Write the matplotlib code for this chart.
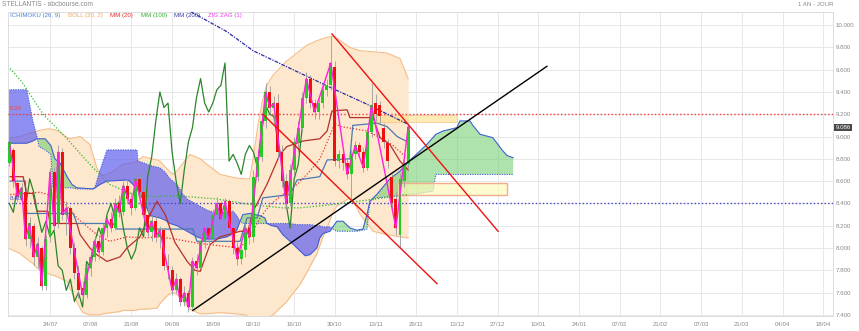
import matplotlib
matplotlib.use('Agg')
import matplotlib.pyplot as plt
import numpy as np
from matplotlib.patches import Rectangle

plt.rcParams['font.family'] = ['Liberation Sans', 'DejaVu Sans']

# ---------------- data ----------------
bars = np.arange(-10, 89)
opens = [8.76, 8.88, 8.58, 8.46, 8.50, 8.08, 8.20, 7.92, 8.00, 7.66,
         8.10, 8.68, 8.22, 8.86, 8.30, 8.36, 8.00, 7.78, 7.64, 7.58,
         7.82, 7.92, 8.06, 7.96, 8.18, 8.26, 8.18, 8.40, 8.32, 8.56,
         8.44, 8.36, 8.62, 8.50, 8.30, 8.14, 8.24, 8.10, 8.16, 7.84,
         7.80, 7.62, 7.72, 7.52, 7.60, 7.47, 7.88, 7.82, 8.06, 8.18,
         8.08, 8.30, 8.40, 8.26, 8.42, 8.18, 8.00, 7.90, 7.98, 8.18,
         8.10, 8.64, 8.82, 9.14, 9.40, 9.26, 9.30, 8.86, 8.60, 8.40,
         8.70, 8.95, 9.08, 9.35, 9.52, 9.30, 9.22, 9.30, 9.42, 9.46,
         9.62, 8.78, 8.84, 8.76, 8.66, 8.84, 8.92, 8.86, 8.72, 9.04,
         9.30, 9.28, 9.08, 8.94, 8.64, 8.44, 8.12, 8.60, 8.75]
highs = [8.98, 8.90, 8.62, 8.58, 8.52, 8.28, 8.22, 8.10, 8.02, 8.12,
         8.72, 8.72, 8.92, 8.90, 8.42, 8.38, 8.05, 7.85, 7.70, 7.86,
         7.98, 8.10, 8.12, 8.22, 8.30, 8.32, 8.45, 8.48, 8.60, 8.62,
         8.50, 8.66, 8.66, 8.54, 8.36, 8.30, 8.30, 8.20, 8.18, 7.95,
         7.84, 7.78, 7.74, 7.66, 7.62, 7.92, 7.95, 8.12, 8.22, 8.22,
         8.35, 8.46, 8.42, 8.45, 8.44, 8.22, 8.05, 8.04, 8.22, 8.25,
         8.70, 8.88, 9.20, 9.48, 9.45, 9.36, 9.38, 8.92, 8.66, 8.75,
         9.00, 9.14, 9.40, 9.58, 9.55, 9.34, 9.36, 9.48, 9.52, 9.90,
         9.68, 8.88, 8.86, 8.80, 8.88, 8.96, 8.95, 8.90, 9.08, 9.48,
         9.38, 9.32, 9.12, 8.98, 8.66, 8.50, 8.66, 8.80, 9.12]
lows = [8.74, 8.55, 8.42, 8.40, 8.02, 8.00, 7.85, 7.82, 7.62, 7.62,
        8.05, 8.15, 8.18, 8.25, 8.12, 7.95, 7.72, 7.55, 7.52, 7.55,
        7.75, 7.88, 7.90, 7.94, 8.10, 8.14, 8.16, 8.28, 8.30, 8.40,
        8.30, 8.34, 8.46, 8.26, 8.10, 8.06, 8.05, 8.00, 7.80, 7.72,
        7.58, 7.60, 7.48, 7.48, 7.43, 7.45, 7.76, 7.80, 8.00, 8.02,
        8.06, 8.26, 8.20, 8.22, 8.14, 7.95, 7.85, 7.86, 7.92, 8.04,
        8.05, 8.60, 8.78, 9.08, 9.20, 9.12, 8.80, 8.55, 8.34, 8.38,
        8.65, 8.86, 9.04, 9.30, 9.26, 9.16, 9.16, 9.26, 9.36, 9.42,
        8.74, 8.72, 8.70, 8.62, 8.42, 8.80, 8.82, 8.68, 8.70, 9.00,
        9.14, 9.12, 8.90, 8.72, 8.34, 8.12, 8.00, 8.55, 8.72]
closes = [8.95, 8.60, 8.46, 8.54, 8.08, 8.22, 7.92, 8.04, 7.66, 8.08,
          8.68, 8.20, 8.86, 8.30, 8.36, 8.00, 7.78, 7.62, 7.58, 7.82,
          7.92, 8.06, 7.96, 8.18, 8.26, 8.18, 8.40, 8.32, 8.56, 8.44,
          8.36, 8.62, 8.50, 8.30, 8.14, 8.24, 8.10, 8.16, 7.84, 7.80,
          7.62, 7.72, 7.52, 7.60, 7.47, 7.88, 7.82, 8.06, 8.18, 8.08,
          8.30, 8.40, 8.26, 8.42, 8.18, 8.00, 7.90, 7.98, 8.18, 8.10,
          8.64, 8.82, 9.14, 9.40, 9.26, 9.30, 8.86, 8.60, 8.40, 8.70,
          8.95, 9.08, 9.35, 9.52, 9.30, 9.22, 9.30, 9.42, 9.46, 9.66,
          8.78, 8.84, 8.76, 8.66, 8.84, 8.92, 8.86, 8.72, 9.04, 9.28,
          9.20, 9.18, 8.95, 8.78, 8.40, 8.18, 8.62, 8.75, 9.086]
last_price = 9.086

# Bollinger (20, 2)
boll_t = [-10.3, -7.4, -4.2, -3.2, -0.5, 1.2, 2.5, 4.2, 4.9, 6.1, 7.4, 8.1, 9.8,
          11.5, 12.3, 13.0, 15.2, 17.2, 17.9, 20.9, 22.1, 22.9, 26.3, 27.0, 29.0,
          30.2, 31.4, 33.9, 34.4, 36.9, 38.6, 41.8, 45.5, 47.9, 49.1, 50.1, 51.1,
          52.1, 53.1, 54.8, 58.2, 59.0, 61.4, 63.1, 65.6, 67.1, 68.1, 69.5, 70.5,
          73.7, 75.4, 76.2, 79.4, 82.8, 86.0, 88.0]
boll_up = [8.98, 9.00, 9.04, 9.05, 9.07, 9.06, 9.04, 8.99, 8.98, 8.99, 9.00, 8.98, 8.93,
           8.72, 8.67, 8.65, 8.68, 8.73, 8.75, 8.77, 8.80, 8.82, 8.79, 8.78, 8.70,
           8.66, 8.70, 8.82, 8.84, 8.80, 8.75, 8.66, 8.63, 8.62, 8.62, 8.85, 9.10,
           9.30, 9.45, 9.55, 9.68, 9.70, 9.77, 9.82, 9.86, 9.88, 9.89, 9.90, 9.88,
           9.80, 9.78, 9.77, 9.76, 9.75, 9.70, 9.52]
boll_lo = [8.00, 7.95, 7.86, 7.82, 7.77, 7.75, 7.73, 7.70, 7.64, 7.55, 7.46, 7.42, 7.40,
           7.40, 7.40, 7.41, 7.42, 7.43, 7.44, 7.44, 7.45, 7.45, 7.46, 7.50, 7.58,
           7.60, 7.58, 7.47, 7.45, 7.41, 7.41, 7.42, 7.41, 7.40, 7.38, 7.37, 7.37,
           7.37, 7.37, 7.40, 7.52, 7.56, 7.67, 7.78, 7.95, 8.10, 8.18, 8.32, 8.38,
           8.45, 8.36, 8.30, 8.15, 8.12, 8.10, 8.09]

# Ichimoku (26, 9)
tenkan_t = [-9.8, -6.6, -5.7, -4.2, -3.2, -0.5, 0.0, 6.6, 7.4, 9.8, 11.5, 14.0, 17.2,
            18.9, 22.1, 24.6, 26.3, 28.3, 30.7, 33.7, 35.6, 36.9, 39.3, 41.8, 46.7,
            48.6, 49.9, 53.3, 56.5, 58.2, 62.2, 66.3, 68.1, 69.3, 73.0, 73.7, 79.4,
            81.1, 83.5, 86.0, 88.0]
tenkan = [8.64, 8.64, 8.49, 8.49, 8.33, 8.33, 8.22, 8.22, 8.12, 8.00, 7.94, 7.88, 7.92,
          8.00, 8.10, 8.30, 8.42, 8.30, 8.05, 7.88, 7.80, 7.79, 8.03, 8.10, 8.15,
          8.15, 8.33, 8.57, 8.84, 8.91, 8.96, 8.98, 9.05, 9.23, 9.24, 9.17, 9.17,
          8.99, 8.93, 8.78, 8.70]
kijun_t = [-9.8, -6.1, -5.7, 5.7, 6.6, 15.5, 16.5, 35.1, 36.1, 46.7, 48.4, 50.9, 52.3,
           59.0, 60.7, 66.3, 68.1, 73.7, 74.4, 80.3, 82.8, 85.3, 88.0]
kijun = [8.60, 8.60, 8.31, 8.31, 8.22, 8.22, 8.17, 8.17, 8.06, 8.06, 8.27, 8.27, 8.45,
         8.48, 8.61, 8.64, 8.79, 8.80, 9.10, 9.12, 9.09, 9.00, 8.95]
cloud_t = [-10.3, -5.7, -4.2, -3.2, -2.7, -1.2, 0.2, 0.7, 1.2, 2.5, 4.2, 5.4, 6.6,
           10.6, 11.1, 12.3, 14.0, 19.2, 20.4, 21.4, 21.6, 23.3, 24.6, 27.0, 28.3,
           29.5, 31.2, 32.7, 33.7, 36.1, 37.6, 38.6, 41.0, 43.5, 45.0, 45.9, 46.7,
           47.4, 49.1, 51.6, 52.8, 53.3, 54.5, 55.8, 57.2, 59.0, 60.7, 62.7, 63.9,
           65.6, 66.3, 67.1, 68.8, 69.5, 70.5, 72.0, 73.7, 75.4, 76.9, 77.9, 78.6,
           80.3, 83.5, 86.0, 88.5, 90.9, 92.6, 94.1, 94.8, 96.6, 100.0, 100.7, 103.2,
           103.9, 105.7, 108.8, 111.3, 112.3, 113.8]
span_a = [8.94, 8.94, 8.96, 8.98, 8.98, 8.98, 8.92, 8.86, 8.80, 8.76, 8.64, 8.57, 8.54,
          8.53, 8.54, 8.57, 8.60, 8.61, 8.57, 8.53, 8.52, 8.40, 8.29, 8.27, 8.25,
          8.22, 8.20, 8.17, 8.15, 8.10, 8.08, 8.08, 8.08, 8.10, 8.13, 8.16, 8.24,
          8.30, 8.31, 8.29, 8.27, 8.22, 8.20, 8.19, 8.12, 8.06, 8.00, 7.93, 7.94,
          8.00, 8.09, 8.13, 8.15, 8.19, 8.24, 8.24, 8.18, 8.16, 8.17, 8.30, 8.42,
          8.48, 8.62, 8.69, 8.79, 8.87, 8.93, 8.99, 9.02, 9.05, 9.08, 9.14, 9.14,
          9.10, 9.02, 8.99, 8.87, 8.83, 8.81]
span_b = [9.42, 9.42, 9.14, 9.00, 8.91, 8.88, 8.84, 8.54, 8.54, 8.54, 8.54, 8.54, 8.53,
          8.53, 8.55, 8.70, 8.88, 8.88, 8.88, 8.88, 8.78, 8.76, 8.74, 8.72, 8.68,
          8.62, 8.57, 8.48, 8.44, 8.39, 8.36, 8.34, 8.31, 8.32, 8.33, 8.29, 8.24,
          8.22, 8.22, 8.22, 8.22, 8.22, 8.22, 8.22, 8.22, 8.22, 8.21, 8.21, 8.21,
          8.20, 8.20, 8.19, 8.19, 8.17, 8.15, 8.15, 8.15, 8.15, 8.16, 8.17, 8.42,
          8.45, 8.46, 8.47, 8.48, 8.49, 8.50, 8.51, 8.66, 8.66, 8.66, 8.66, 8.66,
          8.66, 8.66, 8.66, 8.66, 8.66, 8.66]
chikou_shift = 26

# Moving averages
mm20_t = [-9.8, -2.5, 2.5, 6.6, 11.5, 14.7, 18.9, 22.9, 27.0, 30.7, 33.7, 36.9, 46.7,
          49.9, 51.6, 54.1, 57.2, 60.7, 63.9, 66.3, 68.1, 70.0, 71.3, 77.9, 81.1,
          84.3, 86.7, 88.0]
mm20 = [8.48, 8.50, 8.45, 8.27, 8.12, 8.06, 8.10, 8.09, 8.10, 8.08, 8.06, 8.04, 8.00,
        8.15, 8.27, 8.39, 8.48, 8.57, 8.69, 8.80, 8.95, 9.12, 9.09, 9.05, 8.99,
        8.92, 8.84, 8.80]
mm100_t = [-9.8, -6.9, -1.7, 4.2, 9.8, 14.7, 20.4, 25.8, 30.7, 41.0, 49.1, 57.2, 61.4,
           69.5, 77.9, 88.0]
mm100 = [9.61, 9.49, 9.20, 8.98, 8.75, 8.57, 8.48, 8.46, 8.47, 8.44, 8.39, 8.36, 8.36,
         8.39, 8.43, 8.48]
mm200_t = [34.6, 43.5, 49.9, 61.4, 69.5, 77.9, 88.0]
mm200 = [10.12, 9.94, 9.77, 9.57, 9.43, 9.29, 9.11]

# Zig zag (1)
zz_t = [-10, -8, -7, -6, -5, -4, -3, -2, 0, 1, 2, 3, 4, 8, 11, 12, 14, 15, 16, 17, 18,
        20, 21, 24, 25, 26, 27, 30, 31, 32, 33, 34, 35, 36, 38, 39, 41, 42, 43, 46,
        48, 49, 53, 54, 55, 58, 63, 65, 69, 73, 75, 77, 79, 85, 88]
zz_v = [8.95, 8.46, 8.54, 8.08, 8.22, 7.92, 8.04, 7.66, 8.68, 8.20, 8.86, 8.30, 8.36,
        7.58, 8.06, 7.96, 8.26, 8.18, 8.40, 8.32, 8.56, 8.36, 8.62, 8.14, 8.24, 8.10,
        8.16, 7.62, 7.72, 7.52, 7.60, 7.47, 7.88, 7.82, 8.18, 8.08, 8.40, 8.26, 8.42,
        7.90, 8.18, 8.10, 9.40, 9.26, 9.30, 8.40, 9.52, 9.22, 9.66, 8.66, 8.92, 8.72,
        9.28, 8.18, 9.086]

# drawn objects
support_line = ([35.1, 122.1], [7.44, 9.63])
channel_top = ([69.3, 110.1], [9.92, 8.15])
channel_low = ([52.3, 95.1], [9.20, 7.68])
level_red = 9.20
level_blue = 8.40
zone_low = (85.3, 112.3, 8.473, 8.584)
zone_high = (79.1, 100.0, 9.130, 9.196)

tick_pos = list(range(0, 200, 10))
tick_labels = ['24/07', '07/08', '21/08', '04/09', '18/09', '02/10', '16/10', '30/10',
               '13/11', '29/11', '13/12', '27/12', '10/01', '24/01', '07/02', '21/02',
               '07/03', '21/03', '04/04', '18/04']
y_ticks = [7.4, 7.6, 7.8, 8.0, 8.2, 8.4, 8.6, 8.8, 9.0, 9.2, 9.4, 9.6, 9.8, 10.0]

# ---------------- figure ----------------
W, H = 859, 331
fig = plt.figure(figsize=(W / 100, H / 100), dpi=100)
L, R, T, B = 8, 833, 11.7, 316
ax = fig.add_axes([L / W, 1 - B / H, (R - L) / W, (B - T) / H])
ax.set_xlim(-10.32, 192.4)
ax.set_ylim(7.39, 10.12)

GREY = '#8a8a8a'
FS = 4.4

ax.set_axisbelow(True)
ax.grid(True, color='#e8e8e8', lw=0.7)
for s in ax.spines.values():
    s.set_color('#dcdcdc')
    s.set_linewidth(0.7)

ax.set_xticks(tick_pos)
ax.set_xticklabels(tick_labels)
ax.set_yticks(y_ticks)
ax.set_yticklabels([f'{v:.3f}' for v in y_ticks])
ax.yaxis.tick_right()
ax.tick_params(axis='x', length=0, pad=4, labelsize=FS, labelcolor=GREY)
ax.tick_params(axis='y', length=0, pad=2, labelsize=FS, labelcolor=GREY)

# Bollinger
ax.fill_between(boll_t, boll_lo, boll_up, color='#fde7cd', lw=0, zorder=1)
ax.plot(boll_t, boll_up, color='#f6bd88', lw=0.8, zorder=1.2)
ax.plot(boll_t, boll_lo, color='#f6bd88', lw=0.8, zorder=1.2)

# Ichimoku cloud
ct = np.array(cloud_t)
sa = np.array(span_a)
sb = np.array(span_b)
ax.fill_between(ct, sa, sb, where=sa >= sb, interpolate=True, color='#5fc85f',
                alpha=0.5, lw=0, zorder=2)
ax.fill_between(ct, sa, sb, where=sa < sb, interpolate=True, color='#5a5aee',
                alpha=0.68, lw=0, zorder=2)
ax.plot(ct, sa, color='#3f5fd2', lw=0.8, zorder=2.2)
ax.plot(ct, sb, color='#3f5fd2', lw=0.8, ls=(0, (1, 1.2)), zorder=2.2)

# zones
x0, x1, y0, y1 = zone_low
ax.add_patch(Rectangle((x0, y0), x1 - x0, y1 - y0, fc=(1.0, 0.98, 0.72, 0.65),
                       ec='#f4ad8a', lw=1.0, zorder=2.5))
x0, x1, y0, y1 = zone_high
ax.add_patch(Rectangle((x0, y0), x1 - x0, y1 - y0, fc=(0.99, 0.87, 0.52, 0.6),
                       ec=(0.97, 0.76, 0.52, 0.7), lw=0.7, zorder=2.5))

# levels
ax.axhline(level_red, color='#f03c3c', lw=1.0, ls=(0, (1, 1.6)), zorder=2.6)
ax.axhline(level_blue, color='#4646cc', lw=1.0, ls=(0, (1, 1.6)), zorder=2.6)

# indicator lines
ax.plot(mm100_t, mm100, color='#2fb82f', lw=0.9, ls=(0, (1, 1.5)), zorder=3)
ax.plot(mm200_t, mm200, color='#2a2aa8', lw=0.9, ls=(0, (3, 1, 1, 1)), zorder=3)
ax.plot(mm20_t, mm20, color='#f03030', lw=0.9, ls=(0, (1, 1.5)), zorder=3)
ax.plot(kijun_t, kijun, color='#4a7ab2', lw=0.9, zorder=3)
ax.plot(tenkan_t, tenkan, color='#b5312a', lw=0.9, zorder=3)
cl = np.array(closes)
ax.plot(bars[chikou_shift:] - chikou_shift, cl[chikou_shift:], color='#2b862b',
        lw=0.9, zorder=3)

# candles
op = np.array(opens)
hi = np.array(highs)
lo = np.array(lows)
ax.vlines(bars, lo, hi, color='#9a9a9a', lw=0.6, zorder=3.5)
up = cl >= op
colors = np.where(up, '#22cc22', '#ee1111')
heights = np.where(np.abs(cl - op) < 0.01, 0.01, cl - op)
ax.bar(bars, heights, bottom=op, width=0.72, color=colors, lw=0, zorder=4)

# zig zag
ax.plot(zz_t, zz_v, color='#ff22dd', lw=1.0, zorder=5)

# trendlines
ax.plot(*support_line, color='black', lw=1.0, zorder=6)
ax.plot(*channel_top, color='#ee1111', lw=1.0, zorder=6)
ax.plot(*channel_low, color='#ee1111', lw=1.0, zorder=6)

# ---------------- texts ----------------
def ftxt(x, y, s, **kw):
    fig.text(x / W, 1 - y / H, s, va='center', **kw)

ftxt(2, 5, 'STELLANTIS - abcbourse.com', fontsize=4.8, color=GREY)
ftxt(834, 5, '1 AN - JOUR', fontsize=4.4, color=GREY, ha='right')
legend = [(10, 'ICHIMOKU (26, 9)', '#4a80cc'), (68, 'BOLL (20, 2)', '#f2a658'),
          (110, 'MM (20)', '#ee2a2a'), (141, 'MM (100)', '#2fb02f'),
          (174, 'MM (200)', '#3a3aaa'), (208, 'ZIG ZAG (1)', '#e83ae8')]
for x, s, c in legend:
    ftxt(x, 15, s, fontsize=4.4, color=c)
ftxt(10, 108.5, f'{level_red:.2f}', fontsize=4.4, color='#e84848')
ftxt(10, 198.5, f'{level_blue:.2f}', fontsize=4.4, color='#5050cc')
ftxt(835.5, 127.5, f'{last_price:.3f}', fontsize=4.4, color='white', ha='left',
     bbox=dict(boxstyle='square,pad=0.18', fc='#4a4a4a', ec='none'))

fig.savefig('out.png', dpi=100)
